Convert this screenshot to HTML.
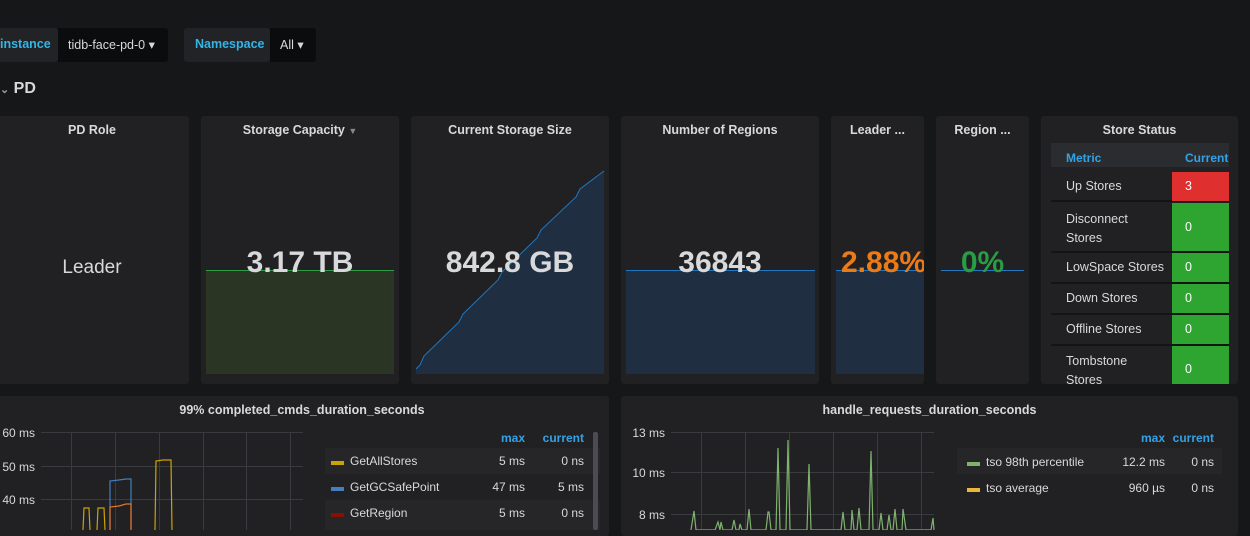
<!DOCTYPE html>
<html><head><meta charset="utf-8"><style>
*{box-sizing:border-box;margin:0;padding:0}
body{width:1250px;height:530px;overflow:hidden;background:#161719;font-family:"Liberation Sans",sans-serif;color:#d8d9da;position:relative}
.a{position:absolute}
.p{position:absolute;background:#212124;border-radius:3px}
.t{position:absolute;top:7px;left:0;right:0;text-align:center;font-size:12.5px;font-weight:bold;color:#d8d9da}
.big{position:absolute;left:0;right:0;text-align:center;font-size:30px;font-weight:bold}
.cell{position:absolute;font-size:12.5px}
</style></head><body>
<div class="a" style="left:-4px;top:28px;width:62px;height:34px;background:#222326;border-radius:3px"></div>
<div class="a" style="left:0;top:37px;font-size:12.5px;font-weight:bold;color:#33b5e5">instance</div>
<div class="a" style="left:58px;top:28px;width:110px;height:34px;background:#0b0c0e;border-radius:0 3px 3px 0"></div>
<div class="a" style="left:68px;top:37px;font-size:12.5px;color:#d8d9da">tidb-face-pd-0 ▾</div>
<div class="a" style="left:184px;top:28px;width:86px;height:34px;background:#222326;border-radius:3px"></div>
<div class="a" style="left:195px;top:37px;font-size:12.5px;font-weight:bold;color:#33b5e5">Namespace</div>
<div class="a" style="left:270px;top:28px;width:46px;height:34px;background:#0b0c0e;border-radius:0 3px 3px 0"></div>
<div class="a" style="left:280px;top:37px;font-size:12.5px;color:#d8d9da">All ▾</div>
<div class="a" style="left:0;top:80px;font-size:16px;font-weight:bold;color:#d8d9da"><span style="font-size:11px;color:#999">⌄</span> PD</div>

<div class="p" style="left:-5px;top:116px;width:194px;height:268px"><div class="t">PD Role</div><div class="big" style="top:141px;font-size:19px;font-weight:normal;color:#d8d9da">Leader</div></div>
<div class="p" style="left:201px;top:116px;width:198px;height:268px"><div class="t">Storage Capacity <span style="color:#888;font-size:9px">▼</span></div>
<svg class="a" style="left:0;top:0" width="198" height="268"><rect x="5" y="154" width="188" height="104" fill="#2a3524"/><line x1="5" y1="154.5" x2="193" y2="154.5" stroke="#2f9e44" stroke-width="1"/></svg>
<div class="big" style="top:130px;color:#d8d9da">3.17 TB</div></div>
<div class="p" style="left:411px;top:116px;width:198px;height:268px"><div class="t">Current Storage Size</div>
<svg class="a" style="left:0;top:0" width="198" height="268"><path d="M5,253 L9,249 L13,240 L48,206 L52,198 L87,164 L91,156 L126,122 L130,114 L165,81 L169,73 L193,55 L193,258 L5,258Z" fill="#1f2e40"/><path d="M5,253 L9,249 L13,240 L48,206 L52,198 L87,164 L91,156 L126,122 L130,114 L165,81 L169,73 L193,55" fill="none" stroke="#1f78c1" stroke-width="1"/></svg>
<div class="big" style="top:130px;color:#d8d9da">842.8 GB</div></div>
<div class="p" style="left:621px;top:116px;width:198px;height:268px"><div class="t">Number of Regions</div>
<svg class="a" style="left:0;top:0" width="198" height="268"><rect x="5" y="154" width="189" height="104" fill="#1f2e40"/><line x1="5" y1="154.5" x2="194" y2="154.5" stroke="#1f78c1"/></svg>
<div class="big" style="top:130px;color:#d8d9da">36843</div></div>
<div class="p" style="left:831px;top:116px;width:93px;height:268px;overflow:hidden"><div class="t">Leader ...</div>
<svg class="a" style="left:0;top:0" width="93" height="268"><rect x="5" y="154" width="88" height="104" fill="#1f2e40"/><line x1="5" y1="154.5" x2="93" y2="154.5" stroke="#1f78c1"/></svg>
<div class="big" style="top:130px;left:10px;right:auto;color:#eb7b18;white-space:nowrap">2.88%</div></div>
<div class="p" style="left:936px;top:116px;width:93px;height:268px"><div class="t">Region ...</div>
<svg class="a" style="left:0;top:0" width="93" height="268"><line x1="5" y1="154.5" x2="88" y2="154.5" stroke="#1f78c1"/></svg>
<div class="big" style="top:130px;color:#299c46">0%</div></div>

<div class="p" style="left:1041px;top:116px;width:197px;height:268px;overflow:hidden"><div class="t">Store Status</div>
<div class="a" style="left:10px;top:27px;width:178px;height:24px;background:#2b2c2f"></div>
<div class="cell" style="left:25px;top:35px;color:#33a2e5;font-weight:bold;font-size:12px">Metric</div>
<div class="cell" style="left:144px;top:35px;color:#33a2e5;font-weight:bold;font-size:12px">Current</div>
</div>
<div class="a" style="left:1051px;top:171px;width:178px;height:213px;overflow:hidden">
<div class="a" style="left:0;top:0;width:178px;height:31px;border-bottom:2px solid #141414"></div>
<div class="cell" style="left:15px;top:8px">Up Stores</div><div class="a" style="left:121px;top:1px;width:57px;height:29px;background:#e02f2f"></div><div class="cell" style="left:134px;top:8px;color:#fff">3</div>
<div class="a" style="left:0;top:32px;width:178px;height:50px;border-bottom:2px solid #141414"></div>
<div class="cell" style="left:15px;top:39px;line-height:19px">Disconnect<br>Stores</div><div class="a" style="left:121px;top:32px;width:57px;height:48px;background:#2fa531"></div><div class="cell" style="left:134px;top:49px;color:#fff">0</div>
<div class="cell" style="left:15px;top:89px">LowSpace Stores</div><div class="a" style="left:121px;top:82px;width:57px;height:29px;background:#2fa531"></div><div class="cell" style="left:134px;top:89px;color:#fff">0</div>
<div class="a" style="left:0;top:111px;width:178px;height:2px;background:#141414"></div>
<div class="cell" style="left:15px;top:120px">Down Stores</div><div class="a" style="left:121px;top:113px;width:57px;height:29px;background:#2fa531"></div><div class="cell" style="left:134px;top:120px;color:#fff">0</div>
<div class="a" style="left:0;top:142px;width:178px;height:2px;background:#141414"></div>
<div class="cell" style="left:15px;top:151px">Offline Stores</div><div class="a" style="left:121px;top:144px;width:57px;height:29px;background:#2fa531"></div><div class="cell" style="left:134px;top:151px;color:#fff">0</div>
<div class="a" style="left:0;top:173px;width:178px;height:2px;background:#141414"></div>
<div class="cell" style="left:15px;top:181px;line-height:19px">Tombstone<br>Stores</div><div class="a" style="left:121px;top:175px;width:57px;height:40px;background:#2fa531"></div><div class="cell" style="left:134px;top:191px;color:#fff">0</div>
</div>

<div class="p" style="left:-5px;top:396px;width:614px;height:140px"><div class="t" style="top:7px">99% completed_cmds_duration_seconds</div></div>
<svg class="a" style="left:0;top:396px" width="620" height="134">
<g stroke="#3a3b3e" stroke-width="1">
<line x1="41" y1="36.5" x2="303" y2="36.5"/><line x1="41" y1="70.5" x2="303" y2="70.5"/><line x1="41" y1="103.5" x2="303" y2="103.5"/>
<line x1="71.5" y1="36" x2="71.5" y2="134"/><line x1="115.5" y1="36" x2="115.5" y2="134"/><line x1="159.5" y1="36" x2="159.5" y2="134"/><line x1="203.5" y1="36" x2="203.5" y2="134"/><line x1="246.5" y1="36" x2="246.5" y2="134"/><line x1="290.5" y1="36" x2="290.5" y2="134"/>
</g>
<g font-size="12" fill="#d8d9da" text-anchor="end"><text x="35" y="41">60 ms</text><text x="35" y="75">50 ms</text><text x="35" y="108">40 ms</text></g>
<g fill="none" stroke-width="1.2">
<path d="M83,134 L84,112 L89,112 L90,134 M97,134 L98,112 L104,112 L105,134 M155,134 L156,65 L163,64 L171,64 L172,134" stroke="#cca300"/>
<path d="M110,134 L110,85 L119,84 L126,83 L131,83 L131,134" stroke="#447ebc"/>
<path d="M110,134 L110,111 L119,110 L126,108 L131,108 L131,134" stroke="#e0752d"/>
</g>
<g font-size="12" font-weight="bold" fill="#33a2e5" text-anchor="end"><text x="525" y="46">max</text><text x="584" y="46">current</text></g>
<rect x="325" y="52" width="275" height="26" fill="#262628"/><rect x="325" y="104" width="275" height="30" fill="#262628"/>
<rect x="593" y="36" width="5" height="98" rx="2" fill="#4a4b55"/>
<g font-size="12" fill="#d8d9da">
<rect x="331" y="65" width="13" height="4" fill="#cca300"/><text x="350" y="69">GetAllStores</text><text x="525" y="69" text-anchor="end">5 ms</text><text x="584" y="69" text-anchor="end">0 ns</text>
<rect x="331" y="91" width="13" height="4" fill="#447ebc"/><text x="350" y="95">GetGCSafePoint</text><text x="525" y="95" text-anchor="end">47 ms</text><text x="584" y="95" text-anchor="end">5 ms</text>
<rect x="331" y="117" width="13" height="4" fill="#890f02"/><text x="350" y="121">GetRegion</text><text x="525" y="121" text-anchor="end">5 ms</text><text x="584" y="121" text-anchor="end">0 ns</text>
</g>
</svg>

<div class="p" style="left:621px;top:396px;width:617px;height:140px"><div class="t" style="top:7px">handle_requests_duration_seconds</div></div>
<svg class="a" style="left:621px;top:396px" width="629" height="134">
<g stroke="#3a3b3e" stroke-width="1">
<line x1="50" y1="36.5" x2="313" y2="36.5"/><line x1="50" y1="76.5" x2="313" y2="76.5"/><line x1="50" y1="118.5" x2="313" y2="118.5"/>
<line x1="80.5" y1="36" x2="80.5" y2="134"/><line x1="124.5" y1="36" x2="124.5" y2="134"/><line x1="168.5" y1="36" x2="168.5" y2="134"/><line x1="212.5" y1="36" x2="212.5" y2="134"/><line x1="256.5" y1="36" x2="256.5" y2="134"/><line x1="300.5" y1="36" x2="300.5" y2="134"/>
</g>
<g font-size="12" fill="#d8d9da" text-anchor="end"><text x="44" y="41">13 ms</text><text x="44" y="81">10 ms</text><text x="44" y="123">8 ms</text></g>
<path d="M70,134 L73,115 L75,134 L94,134 L97,126 L99,134 L100,126 L102,134 L111,134 L113,124 L115,134 L118,134 L119,128 L121,134 L126,134 L128,113 L130,134 L145,134 L147,116 L148,116 L150,134 L155,134 L157,52 L159,134 L165,134 L167,44 L169,134 L186,134 L188,68 L190,134 L220,134 L222,116 L224,134 L230,134 L231,114 L233,134 L236,134 L238,112 L240,134 L248,134 L250,55 L252,134 L258,134 L260,117 L262,134 L266,134 L268,119 L270,134 L272,134 L274,113 L276,134 L281,134 L282,113 L285,134 L310,134 L312,122 L313,134" fill="none" stroke="#7eb26d" stroke-width="1.2"/>
<g font-size="12" font-weight="bold" fill="#33a2e5" text-anchor="end"><text x="544" y="46">max</text><text x="593" y="46">current</text></g>
<rect x="336" y="52" width="265" height="26" fill="#262628"/>
<g font-size="12" fill="#d8d9da">
<rect x="346" y="66" width="13" height="4" fill="#7eb26d"/><text x="365" y="70">tso 98th percentile</text><text x="544" y="70" text-anchor="end">12.2 ms</text><text x="593" y="70" text-anchor="end">0 ns</text>
<rect x="346" y="92" width="13" height="4" fill="#eab839"/><text x="365" y="96">tso average</text><text x="544" y="96" text-anchor="end">960 µs</text><text x="593" y="96" text-anchor="end">0 ns</text>
</g>
</svg>
</body></html>
